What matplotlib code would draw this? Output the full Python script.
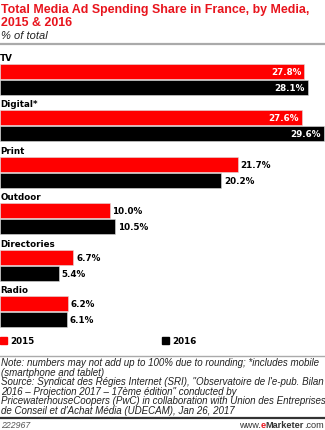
import numpy as np
import matplotlib
matplotlib.use("Agg")
from matplotlib import pyplot as plt
from matplotlib.patches import Rectangle

plt.rcParams['font.family'] = ['DejaVu Sans']

categorias = ["TV", "Digital*", "Print", "Outdoor", "Directories", "Radio"]
valores_2015 = [27.8, 27.6, 21.7, 10.0, 6.7, 6.2]
valores_2016 = [28.1, 29.6, 20.2, 10.5, 5.4, 6.1]
anos = ["2015", "2016"]
cores = ["#ff0000", "#000000"]

W, H = 325, 431
fig = plt.figure(figsize=(W / 100, H / 100), dpi=100)
arial = ['Liberation Sans', 'DejaVu Sans']

def fy(py):
    return 1 - py / H

def fx(px):
    return px / W

# titulo
vermelho = "#e8141d"
fig.text(fx(1), fy(10), "Total Media Ad Spending Share in France, by Media,",
         color=vermelho, fontsize=8.95, fontweight="bold", va="center", ha="left",
         family=arial)
fig.text(fx(1), fy(23), "2015 & 2016", color=vermelho, fontsize=8.95,
         fontweight="bold", va="center", ha="left", family=arial)
fig.text(fx(1), fy(36), "% of total", fontsize=8.0, style="italic",
         va="center", ha="left", color="#222222", family=arial)
fig.add_artist(plt.Line2D([0, 1], [fy(45), fy(45)], color="#aaaaaa", lw=1.6))

# barras
ax = fig.add_axes([0, fy(330), 1, 280 / H])
pos = np.arange(len(categorias))
altura = 0.32
desloc = 0.345
ax.barh(pos, valores_2015, height=altura, color=cores[0], edgecolor="#dddddd", linewidth=0.4)
ax.barh(pos + desloc, valores_2016, height=altura, color=cores[1], edgecolor="#dddddd", linewidth=0.4)
ax.set_xlim(0, 29.68)
ax.set_ylim(5.55, -0.485)
ax.axis("off")

for i in range(len(categorias)):
    ax.text(0.02, pos[i] - 0.30, categorias[i], fontsize=6.3, fontweight="bold",
            va="center", ha="left")
    for v, y in [(valores_2015[i], pos[i]), (valores_2016[i], pos[i] + desloc)]:
        txt = "%.1f%%" % v
        if v > 25:
            ax.text(v - 0.3, y, txt, color="white", fontsize=6.3, fontweight="bold",
                    va="center", ha="right")
        else:
            ax.text(v + 0.25, y, txt, color="black", fontsize=6.3, fontweight="bold",
                    va="center", ha="left")

# legenda
for k, x0 in enumerate([0, 162]):
    fig.add_artist(Rectangle((fx(x0), fy(345)), fx(7), 7 / H, color=cores[k]))
    fig.text(fx(x0 + 10), fy(341.5), anos[k], fontsize=6.3, fontweight="bold",
             va="center", ha="left")

fig.add_artist(plt.Line2D([0, 1], [fy(357), fy(357)], color="#aaaaaa", lw=1.0))

notas = ["Note: numbers may not add up to 100% due to rounding; *includes mobile",
         "(smartphone and tablet)",
         "Source: Syndicat des Régies Internet (SRI), \"Observatoire de l'e-pub. Bilan",
         "2016 \u2013 Projection 2017 \u2013 17ème édition\" conducted by",
         "PricewaterhouseCoopers (PwC) in collaboration with Union des Entreprises",
         "de Conseil et d'Achat Média (UDECAM), Jan 26, 2017"]
for j, linha in enumerate(notas):
    fig.text(fx(1), fy(363.5 + j * 9.5), linha, fontsize=7.05, style="italic",
             va="center", ha="left", color="#222222", family=arial)

fig.add_artist(plt.Line2D([0, 1], [fy(419), fy(419)], color="#333333", lw=1.6))
fig.text(fx(1), fy(426), "222967", fontsize=6.3, va="center", ha="left",
         color="#555555", family=arial, style="italic")

# www.eMarketer.com com o "e" vermelho
fig.canvas.draw()
r = fig.canvas.get_renderer()
partes = [("www.", "#333333", "normal"), ("e", vermelho, "bold"),
          ("Marketer", "#333333", "bold"), (".com", "#333333", "normal")]
larguras = []
for p, c, w in partes:
    t = fig.text(0, 0, p, fontsize=6.6, fontweight=w, family=arial)
    larguras.append(t.get_window_extent(r).width)
    t.remove()
x = 324 - sum(larguras)
for (p, c, w), lw in zip(partes, larguras):
    fig.text(fx(x), fy(426), p, fontsize=6.6, fontweight=w, color=c,
             va="center", ha="left", family=arial)
    x += lw

fig.savefig("out.png", dpi=100)
